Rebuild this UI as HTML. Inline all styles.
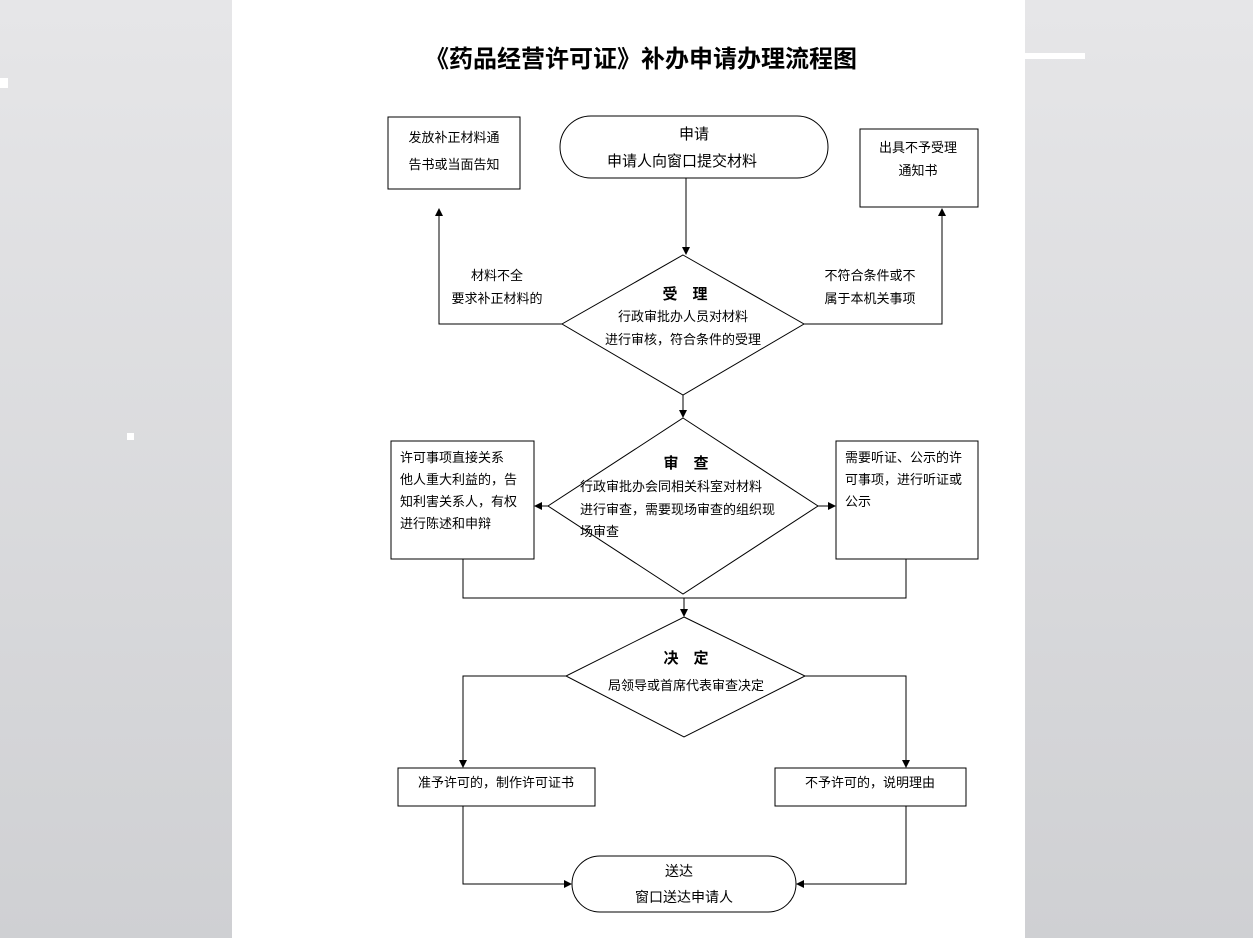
<!DOCTYPE html>
<html><head><meta charset="utf-8"><style>
html,body{margin:0;padding:0;width:1253px;height:938px;overflow:hidden;background:linear-gradient(#e6e6e8,#cfd0d3);}
svg{position:absolute;left:0;top:0}
text{font-family:"Liberation Sans","Noto Sans CJK SC",sans-serif;fill:#000}
</style></head><body>
<svg width="1253" height="938" viewBox="0 0 1253 938">
<defs><marker id="a" markerWidth="8" markerHeight="8" refX="7" refY="4" orient="auto" markerUnits="userSpaceOnUse"><path d="M0,0 L8,4 L0,8 z" fill="#000"/></marker></defs>
<rect x="232" y="0" width="793" height="938" fill="#fff"/>
<rect x="1025" y="53" width="60" height="6" fill="#fff"/>
<rect x="0" y="78" width="8" height="10" fill="#fff"/>
<rect x="127" y="433" width="7" height="7" fill="#fff"/>
<text x="641" y="67" font-size="24" font-weight="bold" text-anchor="middle">《药品经营许可证》补办申请办理流程图</text>
<g fill="none" stroke="#000" stroke-width="1">
<rect x="388" y="117" width="132" height="72"/>
<rect x="560" y="116" width="268" height="62" rx="31"/>
<rect x="860" y="129" width="118" height="78"/>
<line x1="686" y1="178" x2="686" y2="254" marker-end="url(#a)"/>
<polygon points="683,255 804,324 683,395 562,324"/>
<polyline points="562,324 439,324 439,209" marker-end="url(#a)"/>
<polyline points="804,324 942,324 942,209" marker-end="url(#a)"/>
<line x1="683" y1="395" x2="683" y2="417" marker-end="url(#a)"/>
<polygon points="683,418 818,506 683,594 548,506"/>
<rect x="391" y="441" width="143" height="118"/>
<rect x="836" y="441" width="142" height="118"/>
<line x1="548" y1="506" x2="535" y2="506" marker-end="url(#a)"/>
<line x1="818" y1="506" x2="835" y2="506" marker-end="url(#a)"/>
<polyline points="463,559 463,598 906,598 906,559"/>
<line x1="684" y1="598" x2="684" y2="616" marker-end="url(#a)"/>
<polygon points="684,617 805,676 684,737 566,676"/>
<polyline points="566,676 463,676 463,767" marker-end="url(#a)"/>
<polyline points="805,676 906,676 906,767" marker-end="url(#a)"/>
<rect x="398" y="768" width="197" height="38"/>
<rect x="775" y="768" width="191" height="38"/>
<polyline points="463,806 463,884 571,884" marker-end="url(#a)"/>
<polyline points="906,806 906,884 797,884" marker-end="url(#a)"/>
<rect x="572" y="856" width="224" height="56" rx="28"/>
</g>
<g font-size="13" text-anchor="middle">
<text x="454" y="142">发放补正材料通</text>
<text x="454" y="169">告书或当面告知</text>
<text x="694" y="139" font-size="15">申请</text>
<text x="682" y="166" font-size="15">申请人向窗口提交材料</text>
<text x="918" y="152">出具不予受理</text>
<text x="918" y="175">通知书</text>
<text x="497" y="280">材料不全</text>
<text x="497" y="303">要求补正材料的</text>
<text x="870" y="280">不符合条件或不</text>
<text x="870" y="303">属于本机关事项</text>
<text x="685" y="299" font-size="15" font-weight="bold">受　理</text>
<text x="683" y="321">行政审批办人员对材料</text>
<text x="683" y="344">进行审核，符合条件的受理</text>
<text x="686" y="468" font-size="15" font-weight="bold">审　查</text>
<text x="686" y="663" font-size="15" font-weight="bold">决　定</text>
<text x="686" y="690">局领导或首席代表审查决定</text>
<text x="496" y="787">准予许可的，制作许可证书</text>
<text x="870" y="787">不予许可的，说明理由</text>
<text x="679" y="876" font-size="14">送达</text>
<text x="684" y="902" font-size="14">窗口送达申请人</text>
</g>
<g font-size="13">
<text x="580" y="491">行政审批办会同相关科室对材料</text>
<text x="580" y="514">进行审查，需要现场审查的组织现</text>
<text x="580" y="536">场审查</text>
<text x="400" y="462">许可事项直接关系</text>
<text x="400" y="484">他人重大利益的，告</text>
<text x="400" y="506">知利害关系人，有权</text>
<text x="400" y="528">进行陈述和申辩</text>
<text x="845" y="462">需要听证、公示的许</text>
<text x="845" y="484">可事项，进行听证或</text>
<text x="845" y="506">公示</text>
</g>
</svg>
</body></html>
